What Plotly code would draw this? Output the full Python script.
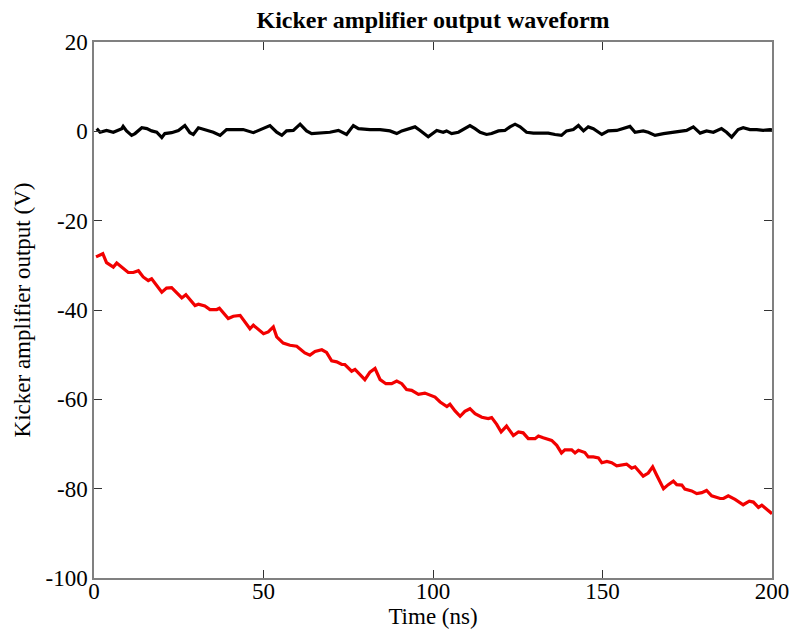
import plotly.graph_objects as go

# Amplifier output (red) sampled along the 0-200 ns window
out_t = [0.6, 2.6, 3.7, 5.7, 6.7, 10.1, 11.6, 13.1, 14.5, 16.0, 17.0, 20.0, 21.4, 22.9,
         25.9, 27.1, 29.8, 30.8, 32.7, 34.2, 36.2, 37.0, 39.6, 41.1, 43.1, 46.0, 47.0,
         50.0, 51.4, 52.9, 53.9, 55.8, 57.8, 59.8, 62.2, 63.7, 65.2, 67.2, 68.6, 70.1,
         71.6, 73.1, 74.0, 76.0, 77.0, 79.9, 81.4, 82.9, 84.4, 86.1, 87.8, 89.3, 90.8,
         92.2, 93.7, 95.7, 97.6, 98.6, 100.6, 102.1, 104.1, 105.0, 106.5, 108.0, 109.4,
         110.9, 112.4, 114.4, 116.3, 117.3, 118.8, 120.1, 121.7, 123.7, 125.2, 126.6,
         128.1, 130.1, 131.1, 132.5, 135.0, 136.5, 137.9, 138.9, 140.9, 141.9, 142.9,
         144.8, 145.8, 147.3, 148.8, 149.8, 151.3, 152.7, 154.2, 157.1, 158.6, 159.6,
         162.0, 163.5, 164.8, 166.0, 168.0, 169.4, 170.9, 171.9, 173.4, 174.3, 176.3,
         177.8, 179.3, 180.7, 182.2, 184.7, 185.7, 187.1, 189.1, 191.5, 193.3, 194.5,
         196.0, 197.0, 198.5, 200.0]
out_v = [-28.1, -27.4, -29.4, -30.4, -29.5, -31.6, -31.6, -31.2, -32.6, -33.4, -33.0,
         -36.0, -35.1, -35.0, -37.3, -36.6, -39.0, -38.7, -39.1, -39.9, -39.9, -39.6,
         -41.9, -41.4, -41.2, -44.2, -43.4, -45.3, -44.9, -43.8, -46.0, -47.4, -47.9,
         -48.1, -49.6, -50.1, -49.3, -48.9, -49.5, -51.4, -51.6, -52.2, -52.2, -53.7,
         -53.3, -55.6, -53.9, -53.1, -55.6, -56.5, -56.5, -55.9, -56.5, -57.8, -58.0,
         -58.9, -58.6, -58.9, -59.5, -60.6, -61.6, -61.1, -62.6, -63.8, -62.7, -62.1,
         -63.2, -64.0, -64.3, -64.1, -65.6, -67.3, -66.0, -68.1, -67.3, -67.5, -68.8,
         -68.8, -68.2, -68.6, -69.2, -70.3, -72.0, -71.3, -71.3, -72.0, -71.4, -71.9,
         -72.9, -72.9, -73.1, -74.2, -73.9, -74.2, -74.9, -74.5, -75.4, -75.1, -77.2,
         -76.5, -75.1, -77.0, -80.0, -79.1, -78.3, -79.1, -79.2, -80.1, -80.5, -81.1,
         -80.9, -80.4, -81.6, -82.2, -82.2, -81.6, -82.4, -83.6, -82.8, -83.0, -84.2,
         -83.7, -84.7, -85.6]

# Baseline trace (black) around 0 V
base_t = [0.8, 1.8, 3.7, 5.7, 8.2, 8.6, 9.6, 11.1, 12.1, 14.1, 15.6, 17.0, 18.5, 20.0,
          20.9, 22.9, 24.9, 26.8, 28.3, 29.3, 30.8, 32.7, 35.2, 37.2, 39.1, 41.1, 44.0,
          47.0, 49.5, 51.9, 53.9, 55.4, 56.8, 58.8, 60.8, 62.7, 64.2, 66.7, 69.6, 72.1,
          74.5, 76.5, 78.0, 81.4, 84.4, 87.3, 89.3, 90.8, 92.7, 94.7, 96.2, 98.6, 101.1,
          103.0, 104.0, 105.5, 107.5, 108.9, 110.9, 112.4, 113.9, 115.8, 117.3, 119.3,
          121.2, 122.7, 124.2, 125.7, 127.6, 129.6, 132.5, 134.0, 136.0, 137.9, 139.4,
          141.4, 142.9, 144.4, 145.8, 147.3, 149.8, 151.7, 154.2, 156.2, 158.1, 159.6,
          162.0, 163.5, 165.5, 168.0, 170.9, 172.9, 174.8, 176.8, 178.8, 180.7, 182.7,
          185.1, 186.6, 188.1, 190.0, 191.5, 193.5, 195.5, 197.4, 199.4, 200.0]
base_v = [0.6, -0.2, 0.2, -0.2, 0.6, 1.1, 0.1, -0.9, -0.5, 0.8, 0.6, 0.1, -0.2, -1.4,
          -0.5, -0.3, 0.2, 1.3, -0.3, -0.7, 0.8, 0.4, -0.2, -0.9, 0.4, 0.4, 0.4, -0.3,
          0.6, 1.3, -0.2, -0.9, 0.1, 0.2, 1.6, 0.1, -0.5, -0.3, -0.2, 0.2, -0.7, 1.3,
          0.6, 0.4, 0.4, 0.1, -0.5, 0.1, 0.6, 1.0, 0.2, -1.2, 0.2, -0.2, 0.1, -0.5,
          -0.2, 0.4, 1.3, 0.6, -0.2, -0.7, -0.5, 0.1, 0.2, 1.0, 1.6, 1.0, -0.2, -0.4,
          -0.5, -0.4, -0.7, -0.9, 0.1, 0.4, 1.3, 0.1, 1.0, 0.6, -0.7, 0.1, 0.2, 0.6,
          1.1, -0.2, 0.1, -0.2, -0.9, -0.5, -0.2, 0.1, 0.2, 1.0, -0.4, 0.1, -0.2, 0.6,
          -0.2, -1.3, 0.4, 0.8, 0.4, 0.4, 0.2, 0.4, 0.3]

x_ticks = [0, 50, 100, 150, 200]
y_ticks = [-100, -80, -60, -40, -20, 0, 20]
y_tick_text = ["-100", "-80", "-60", "-40", "-20", "0", "20"]

FONT = "Liberation Serif, Times New Roman, serif"

fig = go.Figure()
fig.add_trace(go.Scatter(x=base_t, y=base_v, mode="lines",
                         line=dict(color="#000000", width=3.2)))
fig.add_trace(go.Scatter(x=out_t, y=out_v, mode="lines",
                         line=dict(color="#f20000", width=3.2)))

axis_common = dict(showline=True, linecolor="#808080", linewidth=1.5, mirror="ticks",
                   ticks="inside", ticklen=8, tickcolor="#333333", tickwidth=1,
                   showgrid=False, zeroline=False, automargin=False,
                   tickfont=dict(family=FONT, size=23, color="#000000"))

fig.update_layout(
    width=793, height=635,
    margin=dict(l=94, r=21, t=42, b=57),
    paper_bgcolor="white", plot_bgcolor="white",
    showlegend=False,
    font=dict(family=FONT, color="#000000"),
    title=dict(text="<b>Kicker amplifier output waveform</b>",
               font=dict(family=FONT, size=24, color="#000000"),
               x=(94 + 772) / 2 / 793, xanchor="center",
               y=1 - 20 / 635, yanchor="middle", yref="container"),
    xaxis=dict(range=[0, 200], tickvals=x_ticks, ticklabelstandoff=-8,
               title=dict(text="Time (ns)", font=dict(family=FONT, size=23), standoff=0),
               **axis_common),
    yaxis=dict(range=[-100, 20], tickvals=y_ticks, ticktext=y_tick_text,
               title=dict(text="Kicker amplifier output (V)", font=dict(family=FONT, size=23),
                          standoff=8),
               **axis_common),
)

fig.write_html("out.html")
